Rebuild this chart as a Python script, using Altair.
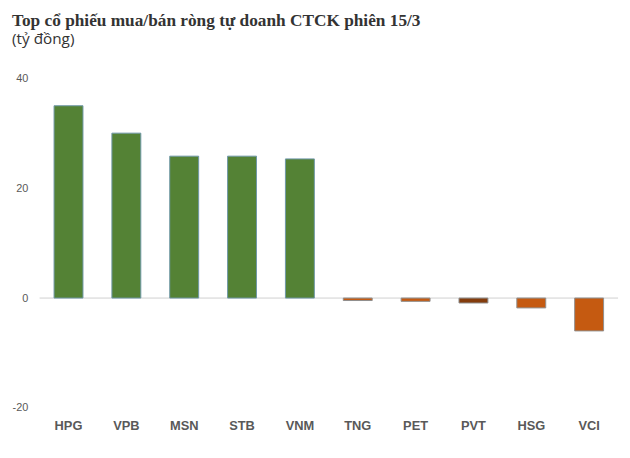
import altair as alt
import pandas as pd

tickers = ["HPG", "VPB", "MSN", "STB", "VNM", "TNG", "PET", "PVT", "HSG", "VCI"]
values = [35.1, 30.1, 25.9, 25.9, 25.4, -0.45, -0.6, -0.9, -1.8, -6.0]
groups = ["buy", "buy", "buy", "buy", "buy", "sell", "sell", "sell_dark", "sell", "sell"]
strokes = ["#6f97a8"] * 5 + ["#8f8f8f"] * 5

df = pd.DataFrame({"ticker": tickers, "value": values, "group": groups, "stroke": strokes})

x = alt.X("ticker:N", sort=tickers, title=None,
          scale=alt.Scale(paddingInner=0.5, paddingOuter=0.25),
          axis=alt.Axis(labelAngle=0, labelFont="Liberation Sans", labelFontWeight="bold",
                        labelFontSize=13, labelColor="#595959", labelPadding=12,
                        domain=False, ticks=False, grid=False))
y = alt.Y("value:Q", title=None,
          scale=alt.Scale(domain=[-20, 40], nice=False),
          axis=alt.Axis(values=[-20, 0, 20, 40], labelFont="Liberation Sans", labelFontSize=11,
                        labelColor="#595959", labelPadding=12, domain=False, ticks=False,
                        grid=False, labelExpr="'' + datum.value"))

bars = alt.Chart(df).mark_bar(strokeWidth=1).encode(
    x=x, y=y,
    color=alt.Color("group:N", legend=None,
                    scale=alt.Scale(domain=["buy", "sell", "sell_dark"],
                                    range=["#548235", "#c55a11", "#843c0c"])),
    stroke=alt.Stroke("stroke:N", scale=None),
)

zero = alt.Chart(pd.DataFrame({"z": [0]})).mark_rule(color="#d0d0d0", strokeWidth=1).encode(
    y=alt.Y("z:Q", scale=alt.Scale(domain=[-20, 40], nice=False))
)

chart = (zero + bars).properties(
    width=586, height=333,
    autosize=alt.AutoSizeParams(type="none"),
    padding={"left": 32, "top": 69, "right": 4, "bottom": 34},
    title=alt.TitleParams(
        text="Top cổ phiếu mua/bán ròng tự doanh CTCK phiên 15/3",
        subtitle="(tỷ đồng)",
        anchor="start", frame="bounds", offset=26,
        font="Liberation Serif", fontSize=17.5, fontWeight="bold", color="#333333",
        subtitleFont="Open Sans", subtitleFontSize=15.5, subtitleColor="#333333",
        subtitlePadding=3,
    ),
).configure_view(stroke=None)

chart.save("out.html", embed_options={"renderer": "svg", "actions": False})
